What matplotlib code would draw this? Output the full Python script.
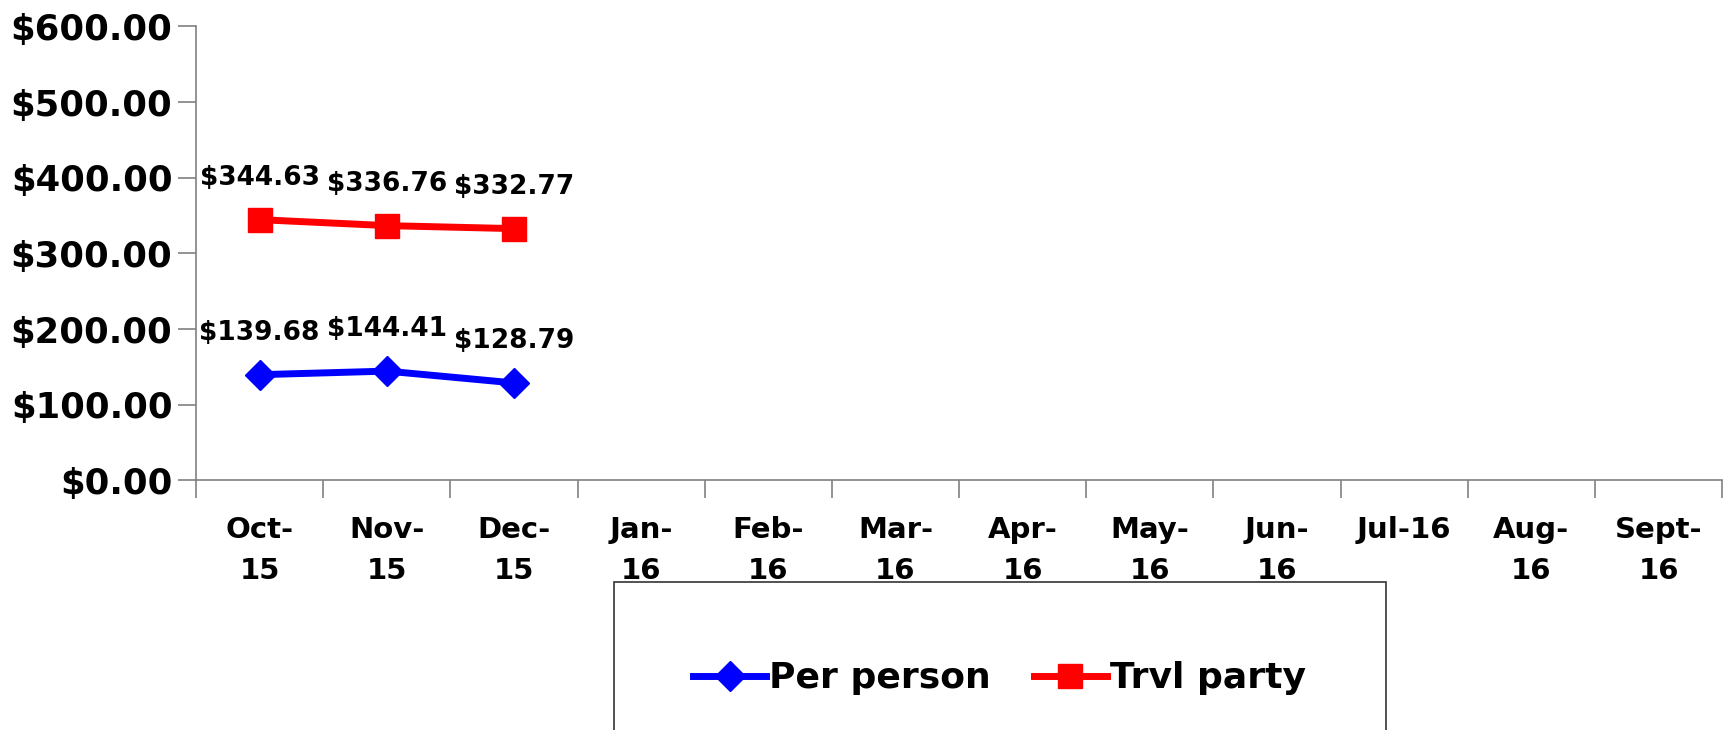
import matplotlib
matplotlib.use("Agg")
import matplotlib.pyplot as plt
import numpy as np

# months on the x axis, two-line labels like the original
months = ["Oct-\n15", "Nov-\n15", "Dec-\n15", "Jan-\n16", "Feb-\n16", "Mar-\n16",
          "Apr-\n16", "May-\n16", "Jun-\n16", "Jul-16", "Aug-\n16", "Sept-\n16"]
per_person = [139.68, 144.41, 128.79]
trvl_party = [344.63, 336.76, 332.77]
yticks = [0, 100, 200, 300, 400, 500, 600]

plt.rcParams['font.family'] = ['DejaVu Sans']
plt.rcParams['font.weight'] = 'bold'

fig = plt.figure(figsize=(17.29, 7.30), dpi=100)
ax = fig.add_axes([0.1134, 0.342, 0.996 - 0.1134, 0.9637 - 0.342])

x_pp = np.arange(len(per_person))
x_tp = np.arange(len(trvl_party))

ax.plot(x_pp, per_person, color='#0000FF', lw=5, marker='D', markersize=15,
        label='Per person', zorder=3)
ax.plot(x_tp, trvl_party, color='#FF0000', lw=5, marker='s', markersize=17,
        label='Trvl party', zorder=3)

# data labels above each point
for xs, ys in [(x_pp, per_person), (x_tp, trvl_party)]:
    for xv, yv in zip(xs, ys):
        ax.annotate("$%.2f" % yv, (xv, yv), xytext=(0, 30), textcoords='offset points',
                    ha='center', va='center', fontsize=19, fontweight='bold')

ax.set_xlim(-0.5, len(months) - 0.5)
ax.set_ylim(0, 600)
ax.set_yticks(yticks)
ax.set_yticklabels(["$%.2f" % v for v in yticks], fontsize=25.5, fontweight='bold')

ax.set_xticks(np.arange(len(months)))
ax.set_xticklabels(months, fontsize=21, fontweight='bold', linespacing=1.55)
ax.set_xticks(np.arange(len(months) + 1) - 0.5, minor=True)
ax.tick_params(axis='x', which='major', length=0, pad=26)
ax.tick_params(axis='x', which='minor', length=13, color='#808080', width=1.2)
ax.tick_params(axis='y', length=13, color='#808080', width=1.2, pad=4)

for s in ['top', 'right']:
    ax.spines[s].set_visible(False)
for s in ['left', 'bottom']:
    ax.spines[s].set_color('#808080')
    ax.spines[s].set_linewidth(1.2)

leg = fig.legend(loc='upper left', bbox_to_anchor=(614 / 1729, 1 - 582 / 730), ncol=2,
                 fontsize=26, frameon=True, fancybox=False, edgecolor='black',
                 borderpad=2.2, handlelength=2.0, handletextpad=0.1,
                 columnspacing=1.2, borderaxespad=0)
leg.get_frame().set_linewidth(1.2)
for t in leg.get_texts():
    t.set_fontweight('bold')

fig.savefig("out.png", dpi=100)
